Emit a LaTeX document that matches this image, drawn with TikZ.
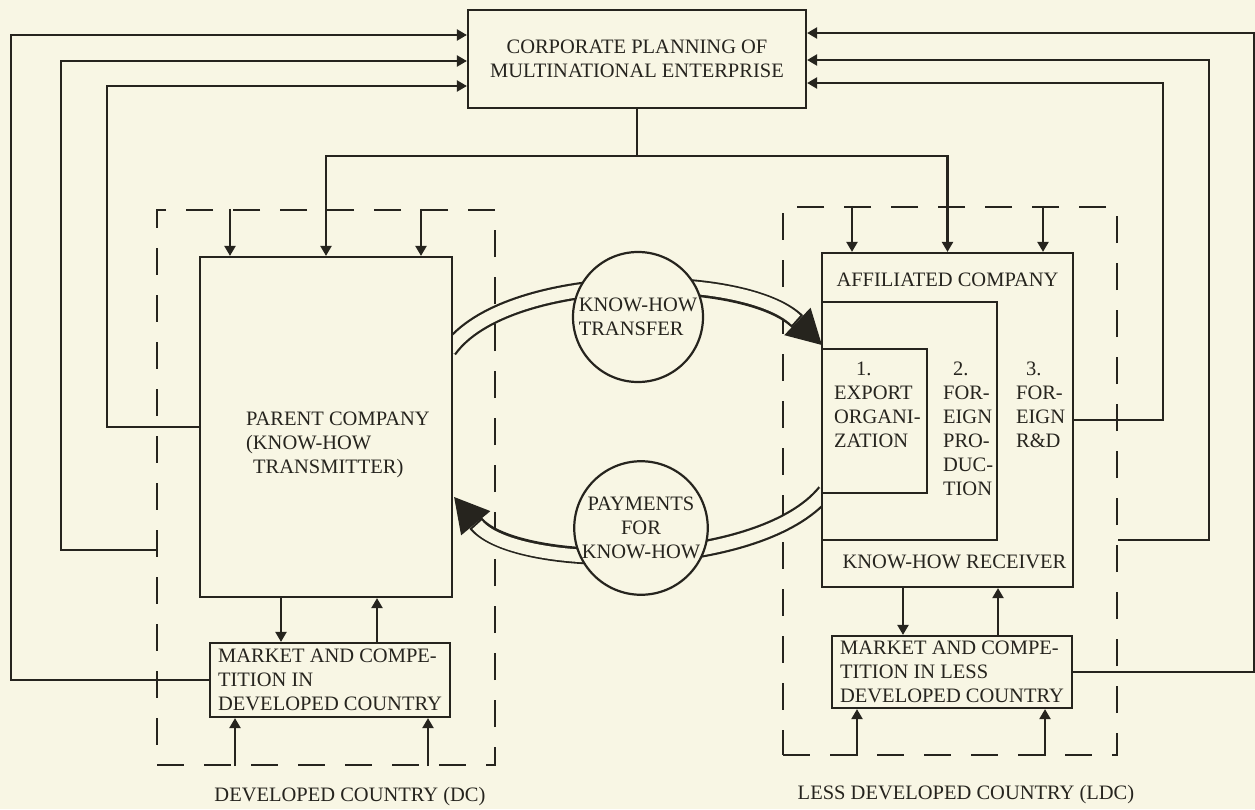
\documentclass[tikz,border=0pt]{standalone}
\usepackage{fontspec}
\setmainfont{Liberation Serif}
\usetikzlibrary{arrows.meta, calc, positioning}
\definecolor{paper}{RGB}{248,246,228}
\definecolor{ink}{RGB}{38,36,30}

\begin{document}
\begin{tikzpicture}[x=1pt, y=-1pt, color=ink, line width=2.2pt,
    font=\fontsize{20.5}{24}\selectfont,
    box/.style={draw, inner sep=2pt},
    dashbox/.style={draw, dash pattern=on 27pt off 20pt},
    flow/.style={-{Triangle[length=10pt, width=11pt]}},
    txt/.style={anchor=north west, inner sep=0pt, align=left}]
    \fill[paper] (0,0) rectangle (1255,809);
    \useasboundingbox (0,0) rectangle (1255,809);

    % planning box
    \node[box, minimum width=338pt, minimum height=98pt, align=center] (plan) at (637,59)
        {CORPORATE PLANNING OF\\MULTINATIONAL ENTERPRISE};

    % country frames
    \node[dashbox, minimum width=338pt, minimum height=555pt] (dc) at (326,487.5) {};
    \node[dashbox, minimum width=334pt, minimum height=548pt] (ldc) at (950,481) {};
    \node (dclbl) at (350,797) {DEVELOPED COUNTRY (DC)};
    \node (ldclbl) at (966,795) {LESS DEVELOPED COUNTRY (LDC)};

    % parent company
    \node[box, minimum width=252pt, minimum height=340pt] (parent) at (326,427) {};
    \node[txt] (parentlbl) at (245,411) {PARENT COMPANY\\(KNOW-HOW\\\hspace*{7pt}TRANSMITTER)};

    % affiliated company
    \node[box, minimum width=251pt, minimum height=334pt] (aff) at (947.5,420) {};
    \node[box, minimum width=175pt, minimum height=238pt] (prod) at (909.5,421) {};
    \node[box, minimum width=105pt, minimum height=144pt] (export) at (874.5,421) {};
    \node (afflbl) at (947.5,280) {AFFILIATED COMPANY};
    \node[txt] (exportlbl) at (833,361) {\hspace*{22pt}1.\\EXPORT\\ORGANI-\\ZATION};
    \node[txt] (prodlbl) at (942,361) {\hspace*{10pt}2.\\FOR-\\EIGN\\PRO-\\DUC-\\TION};
    \node[txt] (rdlbl) at (1015,361) {\hspace*{10pt}3.\\FOR-\\EIGN\\R\&D};
    \node (recvlbl) at (954.5,562) {KNOW-HOW RECEIVER};

    % markets
    \node[box, minimum width=240pt, minimum height=74pt, align=left] (mktdc) at (330,680)
        {MARKET AND COMPE-\\TITION IN\\DEVELOPED COUNTRY};
    \node[box, minimum width=240pt, minimum height=72pt, align=left] (mktldc) at (952,672)
        {MARKET AND COMPE-\\TITION IN LESS\\DEVELOPED COUNTRY};

    % planning to companies
    \draw[flow] (plan.south) -- ++(0,47) -| (parent.north);
    \draw[flow] (plan.south) -- ++(0,47) -| (aff.north);

    % feedback to planning, left
    \draw[flow] (mktdc.west) -- ++(-198,0) |- ($(plan.west)+(0,-24)$);
    \draw[flow] ($(dc.west)+(0,62.5)$) -- ++(-95,0) |- ($(plan.west)+(0,2)$);
    \draw[flow] (parent.west) -- ++(-92,0) |- ($(plan.west)+(0,27)$);

    % feedback to planning, right
    \draw[flow] (mktldc.east) -- ++(181,0) |- ($(plan.east)+(0,-26)$);
    \draw[flow] ($(ldc.east)+(0,59)$) -- ++(91,0) |- ($(plan.east)+(0,1)$);
    \draw[flow] (aff.east) -- ++(89,0) |- ($(plan.east)+(0,24)$);

    % country into companies
    \draw[flow] ($(parent.north)+(-96,-47)$) -- ($(parent.north)+(-96,0)$);
    \draw[flow] ($(parent.north)+(95,-47)$) -- ($(parent.north)+(95,0)$);
    \draw[flow] ($(aff.north)+(-95.5,-46)$) -- ($(aff.north)+(-95.5,0)$);
    \draw[flow] ($(aff.north)+(95.5,-46)$) -- ($(aff.north)+(95.5,0)$);

    % companies and markets
    \draw[flow] ($(parent.south)+(-45,0)$) -- ($(mktdc.north)+(-49,0)$);
    \draw[flow] ($(mktdc.north)+(47,0)$) -- ($(parent.south)+(51,0)$);
    \draw[flow] ($(aff.south)+(-44.5,0)$) -- ($(mktldc.north)+(-49,0)$);
    \draw[flow] ($(mktldc.north)+(46,0)$) -- ($(aff.south)+(50.5,0)$);

    % country into markets
    \draw[flow] ($(mktdc.south)+(-95,48)$) -- ($(mktdc.south)+(-95,0)$);
    \draw[flow] ($(mktdc.south)+(98,48)$) -- ($(mktdc.south)+(98,0)$);
    \draw[flow] ($(mktldc.south)+(-95,47)$) -- ($(mktldc.south)+(-95,0)$);
    \draw[flow] ($(mktldc.south)+(93,47)$) -- ($(mktldc.south)+(93,0)$);

    % know-how and payment bands
    \begin{scope}
        \clip ($(parent.east)+(0,-200)$) rectangle ($(aff.west)+(0,200)$);
        \draw[line width=17pt, -{Triangle[length=34pt, width=38pt, line width=0pt]}]
            ($(parent.east)+(-4,-77)$) .. controls ($(parent.east)+(53,-157)$)
            and ($(aff.west)+(-77,-150)$) .. ($(aff.west)+(1,-75)$);
        \draw[line width=12.5pt, draw=paper, shorten >=36pt]
            ($(parent.east)+(-4,-77)$) .. controls ($(parent.east)+(53,-157)$)
            and ($(aff.west)+(-77,-150)$) .. ($(aff.west)+(1,-75)$);
        \draw[line width=17pt, -{Triangle[length=34pt, width=38pt, line width=0pt]}]
            ($(aff.west)+(4,72)$) .. controls ($(aff.west)+(-61,152)$)
            and ($(parent.east)+(63,145)$) .. ($(parent.east)+(1,70)$);
        \draw[line width=12.5pt, draw=paper, shorten >=36pt]
            ($(aff.west)+(4,72)$) .. controls ($(aff.west)+(-61,152)$)
            and ($(parent.east)+(63,145)$) .. ($(parent.east)+(1,70)$);
    \end{scope}
    \node[circle, draw, fill=paper, minimum size=130pt, inner sep=0pt, align=left] (transfer)
        at (638,317) {KNOW-HOW\\TRANSFER};
    \node[circle, draw, fill=paper, minimum size=132pt, inner sep=0pt, align=center] (payments)
        at (641,528) {PAYMENTS\\FOR\\KNOW-HOW};
\end{tikzpicture}
\end{document}
